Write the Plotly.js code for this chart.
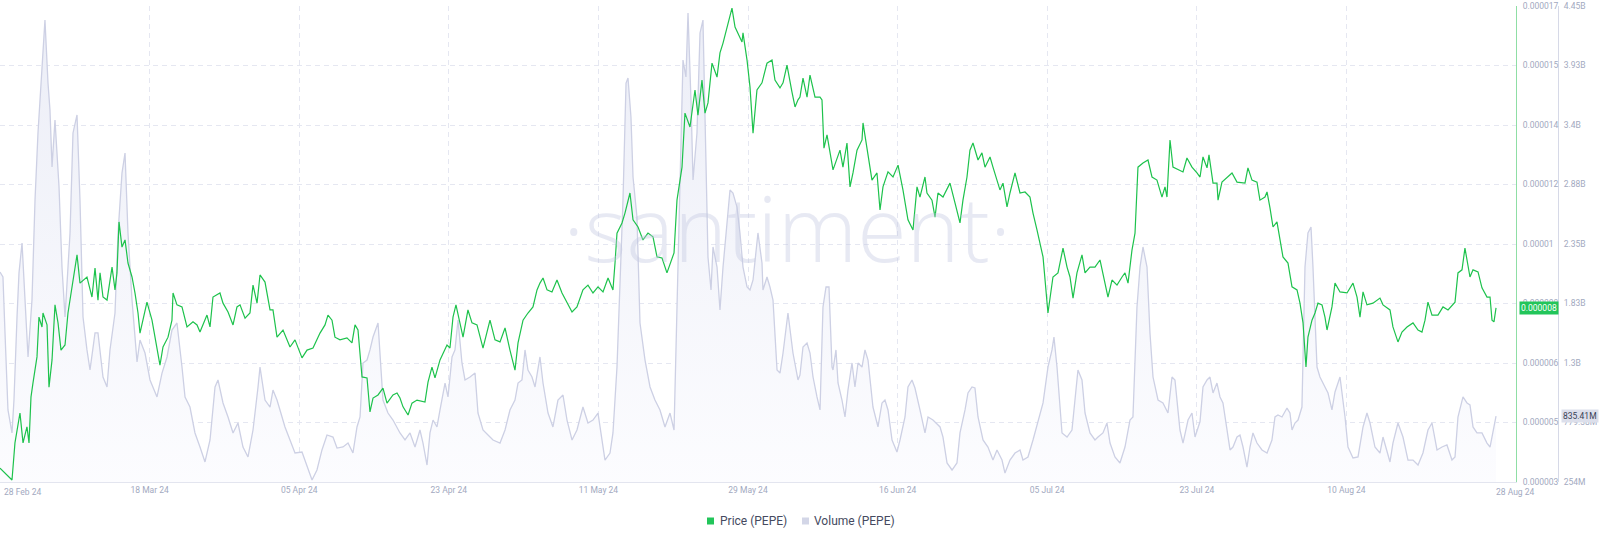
<!DOCTYPE html>
<html><head><meta charset="utf-8">
<script src="https://cdn.plot.ly/plotly-3.0.1.min.js"></script>
<style>html,body{margin:0;padding:0;background:#fff;}#chart{width:1600px;height:541px;}</style>
</head><body><div id="chart"></div>
<script>
const startDate = Date.UTC(2024, 1, 28);

// Price (PEPE) in millionths of USD, day offsets from 28 Feb 24
const priceDays = [
0,1.46,1.82,2.43,2.80,3.28,3.53,3.77,4.01,4.50,
4.74,5.11,5.23,5.72,5.96,6.33,6.69,7.06,7.42,7.91,
8.27,8.76,9.37,9.73,10.58,11.19,11.56,11.92,12.17,12.53,
13.02,13.63,13.99,14.23,14.48,14.84,15.21,15.57,16.06,16.42,
16.79,17.03,17.40,17.88,18.49,19.10,19.46,19.83,20.44,20.92,
21.05,21.53,22.14,22.75,23.48,23.97,24.33,25.18,25.55,25.91,
26.76,27.13,27.74,28.35,28.83,29.20,29.81,30.41,30.78,31.27,
31.63,32.24,32.85,33.21,33.70,34.43,35.28,35.89,36.74,37.35,
38.08,38.93,39.54,39.90,40.39,40.75,41.36,42.21,42.82,43.19,
43.55,44.04,44.65,45.01,45.38,45.99,46.59,47.08,47.81,48.30,
48.66,49.03,49.64,50.12,50.73,51.70,52.07,52.55,52.92,53.53,
54.38,54.74,55.11,55.47,55.96,56.33,56.93,57.42,58.03,58.76,
59.61,60.22,60.83,61.44,62.04,62.41,62.65,63.02,63.63,64.23,
64.84,65.33,65.69,66.06,66.55,67.15,67.76,68.37,68.98,69.59,
70.19,70.92,71.53,72.14,72.75,73.36,73.97,74.57,74.82,75.06,
75.67,76.03,76.64,77.01,77.62,78.22,78.83,79.44,79.93,80.54,
81.14,81.75,82.00,82.36,82.97,83.33,83.94,84.55,84.91,85.40,
85.77,86.13,86.62,87.23,87.59,87.96,88.44,89.05,89.42,89.78,
90.27,90.39,90.88,91.24,91.61,92.09,92.70,93.31,93.92,94.28,
94.89,95.26,95.74,96.35,96.72,97.08,97.32,97.69,98.18,98.54,
99.15,99.76,100.00,100.24,100.61,101.34,102.19,102.55,103.04,103.41,
103.77,104.26,104.87,104.99,105.47,106.08,106.69,107.06,107.42,108.03,
108.64,109.25,109.85,110.46,111.07,111.56,111.92,112.53,112.77,113.38,
113.75,114.11,114.72,115.57,116.18,116.79,117.15,117.64,118.00,118.37,
118.98,119.46,119.83,120.44,120.80,121.29,121.65,122.02,122.51,122.87,
123.48,124.09,124.70,125.30,125.67,126.16,126.52,126.89,127.49,128.10,
128.71,129.32,129.81,130.17,130.54,131.02,131.63,132.00,132.60,133.21,
133.82,134.18,134.79,135.28,135.89,136.50,136.86,137.23,137.71,138.08,
138.44,139.05,139.66,140.15,140.75,141.36,141.73,141.97,142.09,142.34,
142.70,143.31,143.92,144.40,145.01,145.62,145.99,146.35,146.84,147.08,
147.57,148.05,148.18,148.66,149.27,149.88,150.49,151.09,151.46,151.82,
152.31,152.92,153.28,153.89,154.14,154.50,154.87,155.35,155.72,156.08,
156.69,157.18,157.79,158.15,158.52,158.88,159.12,159.61,159.98,160.34,
160.83,161.19,161.44,162.04,162.41,163.02,163.87,164.60,165.09,165.45,
165.82,166.30,167.03,167.88,168.25,169.10,169.46,170.07,170.56,171.17,
171.90,172.51,172.99,173.36,173.72,174.21,174.94,175.55,176.16,176.76,
177.01,177.37,177.86,178.22,178.59,178.83,179.20,179.81,180.29,180.90,
181.27,181.51,181.75,182.00];
const priceMicroUsd = [
3.41,3.06,4.15,5.03,4.15,4.62,4.15,5.50,5.91,6.68,
7.85,7.56,7.97,7.62,5.79,6.59,8.21,7.68,6.88,7.03,
7.97,8.74,9.68,8.85,9.03,8.44,9.29,8.35,9.15,8.44,
8.35,9.32,8.65,9.15,10.65,9.91,10.12,9.44,9.03,8.56,
7.97,7.38,7.76,8.29,7.76,6.88,6.44,6.97,7.26,7.76,
8.56,8.21,8.15,7.56,7.71,7.62,7.41,7.91,7.56,8.44,
8.56,8.26,8.00,7.62,8.15,8.21,7.82,7.97,8.79,8.26,
9.09,8.88,8.06,8.06,7.26,7.47,6.97,7.18,6.65,6.88,
6.94,7.38,7.62,7.91,7.76,7.26,7.18,7.24,7.09,7.62,
7.47,6.09,6.06,5.06,5.47,5.56,5.76,5.32,5.56,5.62,
5.47,5.21,4.97,5.32,5.41,5.35,5.94,6.38,6.06,6.59,
7.03,6.94,7.85,8.21,7.62,7.26,8.06,7.68,7.62,6.94,
7.76,7.18,7.12,7.53,6.88,6.53,6.29,7.09,7.76,7.97,
8.15,8.65,8.85,9.00,8.65,8.59,8.94,8.56,8.29,8.00,
8.15,8.65,8.79,8.56,8.74,8.59,9.00,8.65,9.44,10.32,
10.62,10.91,11.50,10.71,10.50,10.12,10.32,10.21,9.62,9.59,
9.15,9.53,9.74,11.29,12.26,13.85,13.44,14.53,13.79,14.82,
13.85,14.15,15.32,14.91,15.62,15.91,16.38,16.94,16.38,16.21,
15.94,16.21,15.41,14.62,13.26,14.53,14.74,15.32,15.41,14.82,
14.59,14.74,15.26,14.47,14.03,14.24,14.32,14.88,14.32,14.97,
14.32,14.32,14.24,12.82,13.21,12.18,12.76,12.26,12.97,11.68,
12.09,12.76,13.06,13.56,12.76,11.88,12.09,11.00,11.68,12.12,
11.97,12.32,11.59,10.71,10.41,11.68,11.38,11.97,11.50,11.29,
10.79,11.50,11.38,11.79,11.21,10.62,11.29,11.97,12.76,12.97,
12.47,12.68,12.26,12.56,12.26,11.88,11.59,11.79,11.09,11.50,
12.09,11.50,11.53,11.38,10.91,10.41,10.03,9.62,7.97,9.03,
9.15,9.88,9.32,9.03,8.41,9.15,9.68,9.15,9.32,9.32,
9.53,9.15,8.44,8.94,8.79,9.03,9.15,8.85,9.82,10.32,
12.26,12.38,12.47,11.97,11.88,11.38,11.68,11.38,12.09,13.06,
12.26,12.18,12.12,12.53,12.26,12.09,11.97,12.56,12.24,12.62,
11.79,11.79,11.29,11.82,11.97,12.09,11.82,11.79,11.79,12.24,
11.88,11.82,11.29,11.38,11.53,11.06,10.50,10.65,10.12,9.62,
9.44,8.74,8.65,8.26,7.68,6.38,7.26,7.76,7.97,8.26,
8.21,7.85,7.47,8.15,8.85,8.59,8.56,8.85,8.44,7.85,
8.59,8.21,8.26,8.41,8.21,8.06,7.56,7.12,7.41,7.56,
7.68,7.47,7.41,7.76,8.29,7.91,7.91,8.15,8.06,8.21,
8.29,9.15,9.24,9.88,9.32,9.03,9.24,9.18,8.71,8.44,
8.44,7.76,7.71,8.12];

// Volume (PEPE) in millions, day offsets from 28 Feb 24
const volumeDays = [
0,0.36,0.61,0.97,1.46,1.70,2.07,2.31,2.68,3.04,
3.41,3.89,4.26,4.62,5.11,5.47,5.84,6.08,6.33,6.69,
7.18,7.54,7.91,8.52,8.88,9.37,9.73,10.10,10.58,10.95,
11.56,11.92,12.53,13.02,13.38,13.99,14.36,14.84,15.21,15.57,
16.06,16.42,16.67,17.03,17.64,18.25,19.10,19.71,20.32,20.92,
21.53,22.14,22.51,23.11,23.72,24.33,24.94,25.55,26.16,26.52,
27.13,27.74,28.35,28.95,29.56,30.17,30.78,31.39,31.63,32.24,
32.85,33.21,33.70,34.06,34.67,35.28,35.89,36.74,37.35,37.96,
38.56,39.17,39.78,40.51,41.00,41.73,42.34,42.94,43.43,43.80,
44.16,44.65,45.01,45.38,45.99,46.23,46.59,47.20,47.81,48.66,
49.27,49.88,50.49,51.09,51.46,51.95,52.31,52.68,53.16,53.53,
54.14,54.50,54.99,55.35,55.72,56.20,56.57,57.18,57.79,58.15,
58.76,59.37,59.98,60.83,61.44,62.04,62.65,63.02,63.50,63.87,
64.23,64.72,65.09,65.69,66.06,66.67,67.27,67.88,68.49,68.98,
69.59,70.19,70.92,71.53,72.14,72.75,73.24,73.60,74.21,74.57,
75.06,75.43,75.79,76.16,76.40,76.76,77.01,77.49,77.86,78.47,
79.08,79.68,80.29,80.90,81.51,82.00,82.36,82.73,83.09,83.45,
83.70,84.06,84.31,84.79,85.16,85.52,85.77,86.13,86.50,86.74,
87.23,87.59,87.96,88.44,88.81,89.17,89.66,90.02,90.39,90.88,
91.24,91.61,92.21,92.70,92.82,93.31,93.67,94.04,94.53,94.89,
95.26,95.86,96.47,97.08,97.32,97.69,98.18,98.54,98.91,99.39,
99.76,100.12,100.49,100.85,101.22,101.34,101.70,101.95,102.43,102.80,
103.16,103.65,104.01,104.38,104.87,105.23,105.60,106.20,106.81,107.30,
107.66,108.03,108.52,109.12,109.49,110.10,110.46,110.95,111.31,111.92,
112.53,112.90,113.50,114.36,114.72,115.21,115.82,116.42,116.79,117.40,
117.76,118.25,118.61,118.98,119.59,120.19,120.80,121.29,121.90,122.26,
122.87,123.48,124.09,124.45,125.06,125.67,126.28,126.89,127.49,127.98,
128.22,128.59,129.20,129.81,130.41,130.78,131.14,131.63,132.00,132.60,
133.21,133.58,134.18,134.67,135.04,135.64,136.25,136.86,137.47,137.83,
138.32,138.69,139.05,139.54,139.90,140.27,140.88,141.48,142.09,142.58,
142.94,143.55,143.92,144.53,145.01,145.38,145.99,146.35,146.84,147.20,
147.57,148.05,148.42,148.78,149.27,149.64,150.00,150.49,150.85,151.22,
151.70,152.07,152.43,152.92,153.53,154.14,154.74,155.11,155.47,155.96,
156.57,156.93,157.18,157.54,157.91,158.39,158.76,159.12,159.49,159.73,
160.22,160.58,161.19,161.56,162.04,162.41,163.02,163.63,163.99,164.60,
165.21,165.82,166.30,166.67,167.27,167.88,168.25,168.73,169.10,169.46,
170.07,170.68,171.29,171.90,172.51,173.11,173.72,174.21,174.82,175.43,
176.03,176.64,177.01,177.37,177.98,178.47,178.83,179.20,179.68,180.29,
180.90,181.27,181.63,182.00];
const volumeMillions = [
2108,2064,1570,890,687,978,1711,2099,2364,1861,
1358,1861,2744,3336,3918,4333,3777,3539,3035,3450,
2859,2152,1711,2453,3336,3495,2744,1711,1420,1243,
1570,1570,1181,1093,1420,1746,2453,2982,3159,2453,
1861,1570,1314,1508,1393,1155,1005,1216,1358,1596,
1658,1269,1005,916,687,563,431,625,1093,1155,
952,828,687,775,563,475,713,1093,1269,978,
916,1066,978,890,740,625,510,519,386,272,
360,537,669,651,554,563,598,510,740,828,
1305,1331,1420,1534,1658,1420,978,863,801,687,
625,687,563,713,598,404,687,801,740,890,
1128,1005,1358,1420,1684,1305,1155,1181,1216,863,
713,669,625,598,713,890,978,1128,1155,1420,
1243,1181,1093,1358,1128,863,740,978,1022,801,
625,713,916,775,801,863,598,448,510,687,
1269,2064,2744,3777,3821,3477,2947,2594,1658,1331,
1093,978,890,740,863,713,1773,3035,3980,3830,
4395,3627,2921,3336,4219,4333,3336,2241,1949,2329,
2152,1773,2152,2506,2832,2806,2682,2453,2152,1976,
1949,2038,2453,2188,1949,2064,1976,1861,1243,1216,
1393,1746,1393,1155,1198,1446,1481,1393,1181,1005,
890,1799,1976,1976,1269,1243,1420,1128,978,828,
1066,1305,1093,1305,1269,1420,1331,916,740,952,
978,890,625,519,625,828,1093,1155,1084,890,
687,828,801,740,651,422,360,422,687,890,
1040,1093,1084,828,625,563,448,537,448,333,
448,510,537,448,475,625,801,952,1269,1420,
1534,1269,687,651,713,978,1243,1155,863,687,
625,651,687,775,598,475,422,563,801,828,
1799,2152,2329,2152,1570,1181,978,952,863,1181,
1155,713,598,801,863,651,788,1093,1155,1181,
1040,1128,1005,952,713,537,563,651,669,563,
386,563,687,598,537,510,625,828,846,828,
907,863,713,775,801,916,2152,2453,2506,2152,
1269,1181,1093,1040,890,1049,1181,828,563,466,
475,740,863,775,563,510,651,537,431,598,
775,651,448,448,404,510,713,775,537,563,
581,448,475,828,1005,952,934,740,687,687,
598,563,713,835.41];

const xTickDays = [18.2,36.4,54.6,72.8,91,109.2,127.4,145.6,163.8];
const xTickLabels = ["18 Mar 24","05 Apr 24","23 Apr 24","11 May 24","29 May 24","16 Jun 24","05 Jul 24","23 Jul 24","10 Aug 24"];
const xEdgeDays = [0,182];
const xEdgeLabels = ["28 Feb 24","28 Aug 24"];
const xRangeDays = [0,184.43];

const priceTicks = [3,4.75,6.5,8.25,10,11.75,13.5,15.25,17];
const priceTickLabels = ["0.000003","0.000005","0.000006","0.000008","0.00001","0.000012","0.000014","0.000015","0.000017"];
const volumeTicks = [254,779.38,1304.76,1830.14,2355.52,2880.9,3406.28,3931.66,4457.04];
const volumeTickLabels = ["254M","779.38M","1.3B","1.83B","2.35B","2.88B","3.4B","3.93B","4.45B"];
const lastPriceLabel = "0.000008";
const lastVolumeLabel = "835.41M";
const seriesNames = ["Price (PEPE)","Volume (PEPE)"];

function toDate(d){
  return new Date(startDate + d*86400000).toISOString().replace('T',' ').replace('Z','');
}
const M = 1e6, U = 1e-6;
const GREEN = '#1dc24c';
const VOLCOL = '#cdd0e4';
const GRID = '#e5e7f1';
const TICKFONT = {family:'Roboto, "Liberation Sans", sans-serif', size:8.5, color:'#a2a9c0'};
const LEGFONT = {family:'Roboto, "Liberation Sans", sans-serif', size:12, color:'#454a60'};

const volumeTrace = {
  type:'scatter', mode:'lines', name:seriesNames[1],
  x: volumeDays.map(toDate), y: volumeMillions.map(v=>v*M),
  xaxis:'x', yaxis:'y',
  line:{color:VOLCOL, width:1.3},
  fill:'tozeroy',
  fillgradient:{type:'vertical', colorscale:[[0,'rgba(253,253,255,1)'],[1,'rgba(236,238,247,1)']]},
  hoverinfo:'skip'
};
const priceTrace = {
  type:'scatter', mode:'lines', name:seriesNames[0],
  x: priceDays.map(toDate), y: priceMicroUsd.map(v=>v*U),
  xaxis:'x', yaxis:'y2',
  line:{color:GREEN, width:1.2},
  hoverinfo:'skip'
};

const plotW = 1558, plotH = 476, plotRight = 1516;
const legY = -39/plotH;
const layout = {
  width:1600, height:541,
  margin:{l:0, r:42, t:6, b:59, pad:0},
  paper_bgcolor:'#ffffff', plot_bgcolor:'#ffffff',
  showlegend:false, hovermode:false,
  font:TICKFONT,
  xaxis:{
    type:'date', domain:[0, plotRight/plotW], anchor:'y',
    range:xRangeDays.map(toDate),
    tickmode:'array', tickvals:xTickDays.map(toDate), ticktext:xTickLabels,
    showgrid:true, gridcolor:GRID, griddash:'5px,4px', gridwidth:1,
    showline:true, linecolor:'#e3e5ef', linewidth:1,
    ticks:'', zeroline:false, tickfont:TICKFONT, fixedrange:true
  },
  yaxis:{
    anchor:'free', position:1, side:'right',
    range:[volumeTicks[0]*M, volumeTicks[volumeTicks.length-1]*M],
    tickmode:'array', tickvals:volumeTicks.map(v=>v*M), ticktext:volumeTickLabels,
    showgrid:true, gridcolor:GRID, griddash:'5px,4px', gridwidth:1,
    showline:true, linecolor:'#d6d9e7', linewidth:1,
    ticks:'', zeroline:false, tickfont:TICKFONT, ticklabelstandoff:3, fixedrange:true
  },
  yaxis2:{
    overlaying:'y', anchor:'x', side:'right',
    range:[priceTicks[0]*U, priceTicks[priceTicks.length-1]*U],
    tickmode:'array', tickvals:priceTicks.map(v=>v*U), ticktext:priceTickLabels,
    showgrid:false, showline:true, linecolor:'#8fdea5', linewidth:1,
    ticks:'', zeroline:false, tickfont:TICKFONT, ticklabelstandoff:4, fixedrange:true
  },
  shapes:[
    {type:'rect', xref:'paper', yref:'paper', layer:'above',
     x0:707/plotW, x1:714/plotW, y0:legY-3.5/plotH, y1:legY+3.5/plotH,
     fillcolor:'#22c55a', line:{width:0}},
    {type:'rect', xref:'paper', yref:'paper', layer:'above',
     x0:802/plotW, x1:809/plotW, y0:legY-3.5/plotH, y1:legY+3.5/plotH,
     fillcolor:'#d3d6e7', line:{width:0}}
  ],
  annotations:[
    {xref:'paper', yref:'paper', x:0.505, y:0.535, xanchor:'center', yanchor:'middle',
     text:'·santiment·', showarrow:false,
     font:{family:'"Open Sans", Lato, sans-serif', size:90, weight:300, color:'rgba(196,200,224,0.40)'}},
    {xref:'x', yref:'paper', x:toDate(xEdgeDays[0]), y:0, xanchor:'left', yanchor:'top', yshift:-3, xshift:2,
     text:xEdgeLabels[0], showarrow:false, font:TICKFONT},
    {xref:'x', yref:'paper', x:toDate(xEdgeDays[1]), y:0, xanchor:'left', yanchor:'top', yshift:-3, xshift:-2,
     text:xEdgeLabels[1], showarrow:false, font:TICKFONT},
    {xref:'paper', yref:'y2', x:plotRight/plotW, y:priceMicroUsd[priceMicroUsd.length-1]*U,
     xanchor:'left', yanchor:'middle', xshift:3, text:lastPriceLabel, showarrow:false,
     bgcolor:'#22c55a', borderpad:1, font:{family:TICKFONT.family, size:8.5, color:'#ffffff'}},
    {xref:'paper', yref:'y', x:1, y:volumeMillions[volumeMillions.length-1]*M,
     xanchor:'left', yanchor:'middle', xshift:3, text:lastVolumeLabel, showarrow:false,
     bgcolor:'#dcdfeb', borderpad:1, font:{family:TICKFONT.family, size:8.5, color:'#3a3f56'}},
    {xref:'paper', yref:'paper', x:718/plotW, y:legY, xanchor:'left', yanchor:'middle',
     text:seriesNames[0], showarrow:false, font:LEGFONT},
    {xref:'paper', yref:'paper', x:812/plotW, y:legY, xanchor:'left', yanchor:'middle',
     text:seriesNames[1], showarrow:false, font:LEGFONT}
  ]
};

Plotly.newPlot('chart', [volumeTrace, priceTrace], layout, {staticPlot:true, displayModeBar:false});
</script>
</body></html>
